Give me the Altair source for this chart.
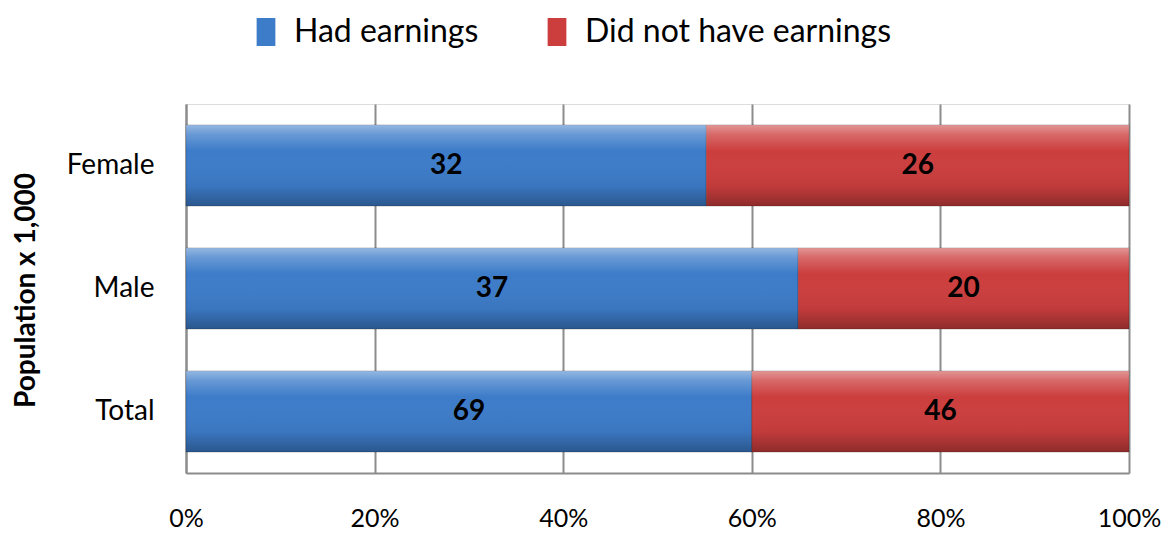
import altair as alt
import pandas as pd

categories = ["Female", "Male", "Total"]
series = ["Had earnings", "Did not have earnings"]
had_earnings = [32, 37, 69]
no_earnings = [26, 20, 46]
x_ticks = [0, 0.2, 0.4, 0.6, 0.8, 1.0]
colors = ["#3d7cc9", "#cc3e3e"]

rows = []
for i, c in enumerate(categories):
    rows.append({"category": c, "series": series[0], "order": 0, "value": had_earnings[i]})
    rows.append({"category": c, "series": series[1], "order": 1, "value": no_earnings[i]})
df = pd.DataFrame(rows)

FONT = "Lato"
GRID = "#8c8c8c"

base = alt.Chart(df).transform_stack(
    stack="value", groupby=["category"], as_=["x0", "x1"], offset="normalize",
    sort=[alt.SortField("order", order="ascending")]
).transform_calculate(mid="(datum.x0 + datum.x1) / 2")

xscale = alt.Scale(domain=[0, 1], nice=False)
yscale = alt.Scale(paddingInner=0.34, paddingOuter=0.17)

xenc = alt.X("x0:Q", scale=xscale, axis=alt.Axis(
    values=x_ticks, format=".0%", title=None, grid=True, gridColor=GRID, gridWidth=2,
    domain=True, domainColor=GRID, domainWidth=2, ticks=False, labelFlush=False,
    labelPadding=33, labelFontSize=25, labelColor="black", labelFont=FONT))
yenc = alt.Y("category:N", sort=categories, scale=yscale, axis=alt.Axis(
    title="Population x 1,000", titleFont=FONT, titleFontSize=28, titleFontWeight="bold",
    titleColor="black", titleAngle=-90, titleX=-160, titleY=186, titleAlign="center",
    titleBaseline="middle",
    grid=False, domain=True, domainColor=GRID, domainWidth=2, ticks=False,
    labelPadding=32, labelFontSize=28, labelColor="black", labelFont=FONT))

legend_symbol = "M-0.67,-1L0.67,-1L0.67,1L-0.67,1Z"

bars = base.mark_bar(stroke="#00000033", strokeWidth=1).encode(
    x=xenc, x2="x1:Q", y=yenc,
    color=alt.Color("series:N", sort=series,
                    scale=alt.Scale(domain=series, range=colors),
                    legend=alt.Legend(
                        orient="none", legendX=64, legendY=-88, direction="horizontal",
                        title=None, symbolType=legend_symbol, symbolSize=784,
                        symbolStrokeWidth=0, labelFontSize=32, labelFont=FONT,
                        labelColor="black", labelOffset=12, columnPadding=62,
                        labelLimit=1000)),
)

shade = alt.Gradient(
    gradient="linear", x1=0, x2=0, y1=0, y2=1,
    stops=[
        alt.GradientStop(color="rgba(255,255,255,0.45)", offset=0),
        alt.GradientStop(color="rgba(255,255,255,0.22)", offset=0.12),
        alt.GradientStop(color="rgba(255,255,255,0.0)", offset=0.32),
        alt.GradientStop(color="rgba(0,0,0,0.05)", offset=0.75),
        alt.GradientStop(color="rgba(0,0,0,0.3)", offset=1),
    ],
)

overlay = base.mark_bar(fill=shade).encode(
    x=alt.X("x0:Q", scale=xscale), x2="x1:Q", y=alt.Y("category:N", sort=categories, scale=yscale)
)

labels = base.mark_text(font=FONT, fontSize=28, fontWeight="bold", color="black",
                        baseline="middle", align="center").encode(
    x=alt.X("mid:Q", scale=xscale),
    y=alt.Y("category:N", sort=categories, scale=yscale),
    text="value:Q",
)

chart = alt.layer(bars, overlay, labels).properties(
    width=943, height=369,
    autosize=alt.AutoSizeParams(type="none"),
    padding={"left": 178, "top": 96, "right": 32, "bottom": 60},
).configure_view(stroke=None).configure(font=FONT)

chart.save("out.html", embed_options={"renderer": "svg", "actions": False})
